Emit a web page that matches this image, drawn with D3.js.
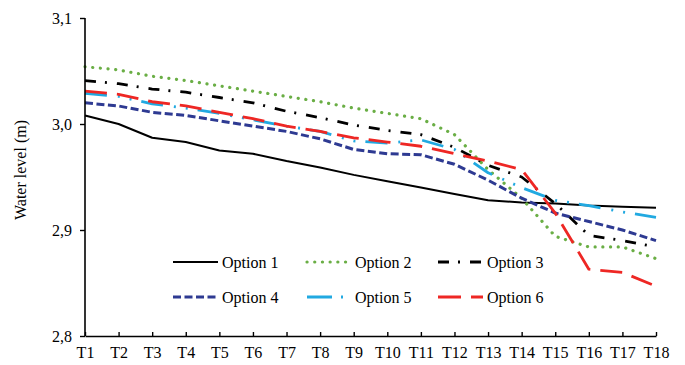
<!DOCTYPE html>
<html><head><meta charset="utf-8">
<script src="https://cdn.jsdelivr.net/npm/d3@7"></script>
<style>
html,body{margin:0;padding:0;background:#fff;}
text{font-family:"Liberation Serif","Times New Roman",serif;fill:#000;}
</style></head>
<body><svg id="c" width="685" height="365"></svg>
<script>
const categories = ["T1","T2","T3","T4","T5","T6","T7","T8","T9","T10","T11","T12","T13","T14","T15","T16","T17","T18"];
const option1 = [3.008,3.000,2.987,2.983,2.975,2.972,2.965,2.959,2.952,2.946,2.940,2.934,2.928,2.926,2.925,2.923,2.922,2.921];
const option2 = [3.054,3.051,3.045,3.041,3.036,3.031,3.026,3.021,3.015,3.010,3.005,2.990,2.957,2.930,2.894,2.884,2.884,2.873];
const option3 = [3.041,3.038,3.033,3.030,3.025,3.020,3.012,3.006,2.999,2.994,2.990,2.978,2.961,2.950,2.925,2.895,2.890,2.884];
const option4 = [3.020,3.017,3.011,3.008,3.003,2.998,2.993,2.986,2.976,2.972,2.971,2.962,2.947,2.930,2.916,2.908,2.900,2.890];
const option5 = [3.029,3.026,3.019,3.015,3.010,3.004,2.998,2.993,2.984,2.982,2.985,2.976,2.954,2.940,2.928,2.923,2.917,2.912];
const option6 = [3.031,3.028,3.021,3.017,3.011,3.005,2.998,2.993,2.987,2.983,2.979,2.972,2.965,2.957,2.916,2.863,2.860,2.847];
const seriesNames = ["Option 1","Option 2","Option 3","Option 4","Option 5","Option 6"];
const yTicks = [2.8,2.9,3.0,3.1];
const yTickLabels = ["2,8","2,9","3,0","3,1"];

const styles = [
  {color:"#000000", width:2, dash:null, cap:"butt"},
  {color:"#6aae45", width:3.2, dash:"0.1 7.6", cap:"round"},
  {color:"#000000", width:2.8, dash:"11 9 2 10", cap:"butt"},
  {color:"#2e3a92", width:3, dash:"8 3.5", cap:"butt"},
  {color:"#21a9e1", width:2.8, dash:"22 11 2 10 2 10", cap:"butt"},
  {color:"#ee2724", width:2.8, dash:"22 10", cap:"butt"}
];
const legendDash = [null,"0.1 7.6","11 9 2 10","8 3.5","25 9 2 20","23 10"];
const data = [option1,option2,option3,option4,option5,option6];

const svg = d3.select("#c");
const x = d3.scalePoint().domain(categories).range([85,656]).padding(0);
const y = d3.scaleLinear().domain([2.8,3.1]).range([336,18]);

// lines
const line = d3.line().x((d,i)=>x(categories[i])).y(d=>y(d));
data.forEach((s,k)=>{
  const st = styles[k];
  svg.append("path").datum(s).attr("d",line)
    .attr("fill","none").attr("stroke",st.color).attr("stroke-width",st.width)
    .attr("stroke-dasharray",st.dash).attr("stroke-linecap",st.cap).attr("stroke-linejoin","round");
});

// y axis
const yAxis = d3.axisLeft(y).tickValues(yTicks).tickFormat((d,i)=>yTickLabels[i]).tickSize(5).tickPadding(8);
const gy = svg.append("g").attr("transform","translate(85,0)").call(yAxis);
gy.select(".domain").attr("stroke","#000").attr("stroke-width",1.6).attr("d","M0,18V336");
gy.selectAll(".tick line").attr("stroke","#000").attr("stroke-width",1.4);
gy.selectAll(".tick text").style("font-size","16px").style("font-family","'Liberation Serif',serif").attr("fill","#000");

// x axis
const xAxis = d3.axisBottom(x).tickSizeInner(-4).tickSizeOuter(0).tickPadding(14);
const gx = svg.append("g").attr("transform","translate(0,336)").call(xAxis);
gx.select(".domain").attr("stroke","#000").attr("stroke-width",1.6);
gx.selectAll(".tick line").attr("stroke","#000").attr("stroke-width",1.4);
gx.selectAll(".tick text").style("font-size","16px").style("font-family","'Liberation Serif',serif").attr("fill","#000").attr("dy","0.5em");

// y title
svg.append("text").attr("transform","translate(26,170) rotate(-90)")
  .attr("text-anchor","middle").style("font-size","16px").text("Water level (m)");

// legend
const legCols = [173,307,438];
const legRows = [262,297];
const legend = svg.append("g");
seriesNames.forEach((name,k)=>{
  const cx = legCols[k%3], cy = legRows[Math.floor(k/3)];
  const st = styles[k];
  legend.append("line").attr("x1",cx).attr("x2",cx+45).attr("y1",cy).attr("y2",cy)
    .attr("stroke",st.color).attr("stroke-width",st.width)
    .attr("stroke-dasharray",legendDash[k]).attr("stroke-linecap",st.cap);
  legend.append("text").attr("x",cx+(k===1||k===4?48:49)).attr("y",cy+5.5)
    .style("font-size","16px").text(name);
});
</script></body></html>
